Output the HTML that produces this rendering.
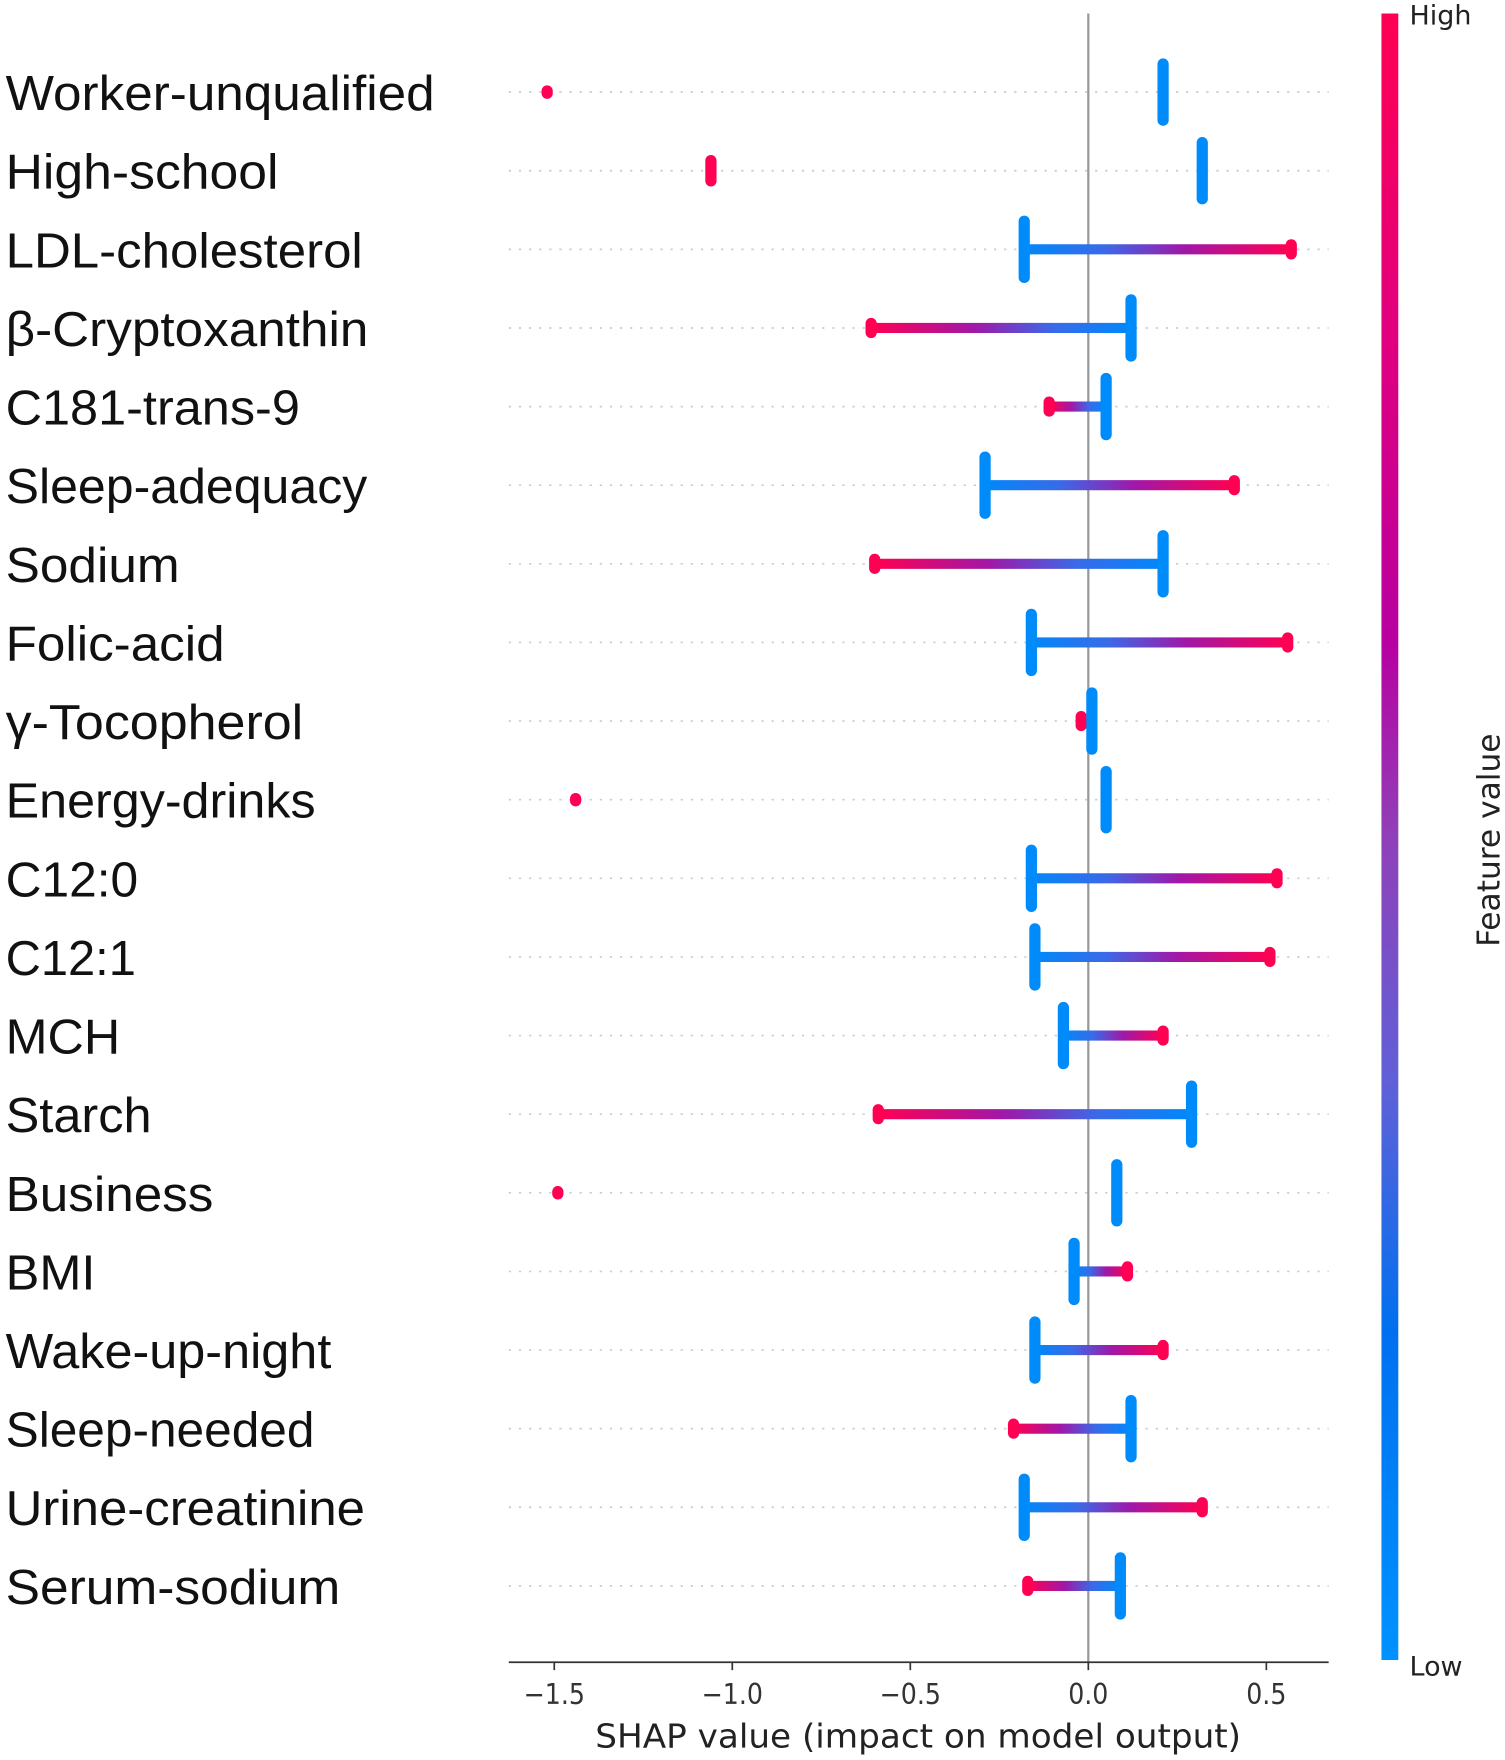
<!DOCTYPE html>
<html><head><meta charset="utf-8"><style>
body{margin:0;background:#fff;}
svg{display:block;}
</style></head><body>
<svg id="chart" width="1505" height="1760" viewBox="0 0 1340 1567" xmlns="http://www.w3.org/2000/svg" font-family="Liberation Sans, DejaVu Sans, sans-serif">
<defs>
<linearGradient id="cbar" x1="0" y1="1" x2="0" y2="0">
<stop offset="0" stop-color="#0092ff"/>
<stop offset="0.2" stop-color="#0070f0"/>
<stop offset="0.35" stop-color="#6060d8"/>
<stop offset="0.5" stop-color="#9040b8"/>
<stop offset="0.62" stop-color="#b800a0"/>
<stop offset="0.8" stop-color="#e00080"/>
<stop offset="1" stop-color="#ff0052"/>
</linearGradient>
</defs>
<g id="grid"></g>
<line x1="969" y1="12" x2="969" y2="1480" stroke="#999" stroke-width="2"/>
<g id="marks"></g>
<g id="labels"></g>
<line x1="453" y1="1480" x2="1183" y2="1480" stroke="#333" stroke-width="1.5"/>
<g id="xticks"></g>
<text x="530" y="1556" font-size="29" textLength="575" lengthAdjust="spacingAndGlyphs" fill="#222" font-family="DejaVu Sans Condensed, DejaVu Sans, sans-serif">SHAP value (impact on model output)</text>
<rect x="1230" y="12" width="15" height="1466" fill="url(#cbar)"/>
<text x="1255" y="22" font-size="24" fill="#222" font-family="DejaVu Sans, sans-serif">High</text>
<text x="1255" y="1492" font-size="24" fill="#222" font-family="DejaVu Sans, sans-serif">Low</text>
<text transform="translate(1335,843) rotate(-90)" font-size="28" textLength="190" lengthAdjust="spacingAndGlyphs" fill="#222" font-family="DejaVu Sans Condensed, DejaVu Sans, sans-serif">Feature value</text>
</svg>
<script>
const features=["Worker-unqualified","High-school","LDL-cholesterol","β-Cryptoxanthin","C181-trans-9","Sleep-adequacy","Sodium","Folic-acid","γ-Tocopherol","Energy-drinks","C12:0","C12:1","MCH","Starch","Business","BMI","Wake-up-night","Sleep-needed","Urine-creatinine","Serum-sodium"];
const lowVals=[0.21,0.32,-0.18,0.12,0.05,-0.29,0.21,-0.16,0.01,0.05,-0.16,-0.15,-0.07,0.29,0.08,-0.04,-0.15,0.12,-0.18,0.09];
const highVals=[-1.52,-1.06,0.57,-0.61,-0.11,0.41,-0.60,0.56,-0.02,-1.44,0.53,0.51,0.21,-0.59,-1.49,0.11,0.21,-0.21,0.32,-0.17];
const isBinary=[1,1,0,0,0,0,0,0,0,1,0,0,0,0,1,0,0,0,0,0];
const labelWidths=[382,243,318,323,262,322,155,195,265,276,118,116,102,130,185,80,290,275,320,298];
const xTicks=[-1.5,-1.0,-0.5,0.0,0.5];
const tickLabels=["\u22121.5","\u22121.0","\u22120.5","0.0","0.5"];

const NS="http://www.w3.org/2000/svg";
const xs=v=>969+317*v;
const ys=i=>82+70*i;
function mk(tag,attrs,parent){const e=document.createElementNS(NS,tag);for(const k in attrs)e.setAttribute(k,attrs[k]);parent.appendChild(e);return e;}
const grid=document.getElementById('grid'),marks=document.getElementById('marks'),labels=document.getElementById('labels'),xt=document.getElementById('xticks');
const defs=document.querySelector('defs');

features.forEach((f,i)=>{
  const y=ys(i);
  const g=mk('line',{x1:453,x2:1183,y1:y,y2:y,stroke:'#ccc','stroke-width':1.5,'stroke-dasharray':'2 7'},grid);
  
  
  const t=mk('text',{x:5,y:y+16,'font-size':44,fill:'#111',textLength:labelWidths[i],lengthAdjust:'spacingAndGlyphs'},labels);
  t.textContent=f;
  
  
  const lx=xs(lowVals[i]),hx=xs(highVals[i]);
  if(!isBinary[i]){
    const gid='rg'+i;
    const lg=mk('linearGradient',{id:gid,gradientUnits:'userSpaceOnUse',x1:lx,y1:0,x2:hx,y2:0},defs);
    mk('stop',{offset:0,'stop-color':'#0088fa'},lg);
    mk('stop',{offset:0.3,'stop-color':'#3a6ae8'},lg);
    mk('stop',{offset:0.6,'stop-color':'#a018a8'},lg);
    mk('stop',{offset:1,'stop-color':'#ff0052'},lg);
    const ln=mk('line',{x1:lx,x2:hx,y1:y,y2:y,stroke:'url(#'+gid+')','stroke-width':9,'stroke-linecap':'round'},marks);
    
    
    const hc=mk('rect',{x:hx-5,y:y-9,width:10,height:18,rx:5,fill:'#ff0052'},marks);
    
    
  } else {
    const hh=i===1?28:12;
    const hc=mk('rect',{x:hx-5,y:y-hh/2,width:10,height:hh,rx:5,fill:'#ff0052'},marks);
    
    
  }
  const lc=mk('rect',{x:lx-5,y:y-30,width:10,height:60,rx:5,fill:'#008bfb'},marks);
  
  
});

xTicks.forEach((v,i)=>{
  const x=xs(v);
  const tk=mk('line',{x1:x,x2:x,y1:1480,y2:1487,stroke:'#333','stroke-width':1.5},xt);
  
  
  const tl=mk('text',{x:x,y:1517,'font-size':25,'text-anchor':'middle',fill:'#333','font-family':'DejaVu Sans Condensed, DejaVu Sans, sans-serif'},xt);
  tl.textContent=tickLabels[i];
  
  
});
</script>
</body></html>
